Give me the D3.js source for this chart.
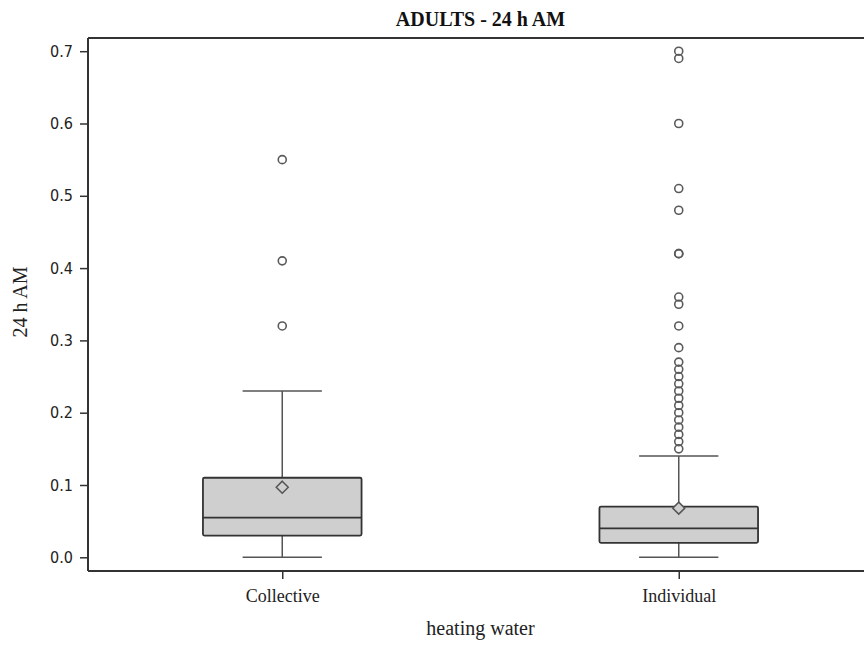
<!DOCTYPE html>
<html>
<head>
<meta charset="utf-8">
<script src="https://cdn.jsdelivr.net/npm/d3@7"></script>
<style>
  body { margin: 0; background: #fff; }
  svg { display: block; }
</style>
</head>
<body>
<svg id="chart" width="864" height="648"></svg>
<script>
// groups and their summary stats
var categories = ["Collective", "Individual"];
var q1 = [0.03, 0.02];
var median = [0.055, 0.04];
var q3 = [0.11, 0.07];
var mean = [0.097, 0.068];
var whiskerLow = [0, 0];
var whiskerHigh = [0.23, 0.14];
var outliersCollective = [0.32, 0.41, 0.55];
var outliersIndividual = [0.15, 0.16, 0.17, 0.18, 0.19, 0.20, 0.21, 0.22, 0.23, 0.24, 0.25, 0.26, 0.27,
  0.29, 0.32, 0.35, 0.36, 0.42, 0.42, 0.48, 0.51, 0.60, 0.69, 0.70];
var yTicks = [0.0, 0.1, 0.2, 0.3, 0.4, 0.5, 0.6, 0.7];

var svg = d3.select("#chart");
// note: "top" is taken by window.top, so use plotTop
var plotLeft = 88, plotTop = 38, plotBottom = 571, plotRight = 877;

var y = d3.scaleLinear().domain([0, 0.7]).range([557.3, 51.2]);
var x = d3.scalePoint().domain(categories).range([84, plotRight]).padding(0.5);
var boxW = x.step() * 0.4, capW = x.step() * 0.2;

// frame (right side is cut off in the original)
svg.append("line").attr("x1", plotLeft).attr("x2", 864).attr("y1", plotTop).attr("y2", plotTop)
  .attr("stroke", "#333").attr("stroke-width", 2);
svg.append("line").attr("x1", plotLeft).attr("x2", 864).attr("y1", plotBottom).attr("y2", plotBottom)
  .attr("stroke", "#333").attr("stroke-width", 2);

// y axis
var yAxis = svg.append("g").attr("transform", "translate(" + plotLeft + ",0)")
  .call(d3.axisLeft(y).tickValues(yTicks).tickFormat(d3.format(".1f")).tickSize(8).tickPadding(7));
yAxis.select(".domain").remove();
yAxis.append("line").attr("x1", 0).attr("x2", 0).attr("y1", plotTop).attr("y2", plotBottom)
  .attr("stroke", "#333").attr("stroke-width", 2);
yAxis.selectAll(".tick line").attr("stroke", "#333").attr("stroke-width", 1.5);
yAxis.selectAll(".tick text").attr("fill", "#222")
  .style("font-family", "'Liberation Sans Narrow', 'Arial Narrow', 'DejaVu Sans Condensed', sans-serif")
  .style("font-size", "16px");

// x axis
var xAxis = svg.append("g").attr("transform", "translate(0," + plotBottom + ")")
  .call(d3.axisBottom(x).tickSize(8).tickPadding(0));
xAxis.select(".domain").remove();
xAxis.selectAll(".tick line").attr("stroke", "#333").attr("stroke-width", 1.5);
xAxis.selectAll(".tick text").attr("fill", "#222").attr("dy", null).attr("y", 31)
  .style("font-family", "'Liberation Serif', serif").style("font-size", "18px");

// boxes
var groups = svg.selectAll(".box").data(categories).enter().append("g").attr("class", "box");

groups.append("line") // whisker stem
  .attr("x1", function(d) { return x(d); }).attr("x2", function(d) { return x(d); })
  .attr("y1", function(d, i) { return y(whiskerLow[i]); })
  .attr("y2", function(d, i) { return y(whiskerHigh[i]); })
  .attr("stroke", "#555").attr("stroke-width", 1.5);

groups.selectAll(".cap").data(function(d, i) { return [[d, whiskerLow[i]], [d, whiskerHigh[i]]]; })
  .enter().append("line")
  .attr("x1", function(c) { return x(c[0]) - capW / 2; })
  .attr("x2", function(c) { return x(c[0]) + capW / 2; })
  .attr("y1", function(c) { return y(c[1]); }).attr("y2", function(c) { return y(c[1]); })
  .attr("stroke", "#555").attr("stroke-width", 1.5);

groups.append("rect")
  .attr("x", function(d) { return x(d) - boxW / 2; })
  .attr("width", boxW)
  .attr("y", function(d, i) { return y(q3[i]); })
  .attr("height", function(d, i) { return y(q1[i]) - y(q3[i]); })
  .attr("rx", 1.5)
  .attr("fill", "#cfcfcf").attr("stroke", "#333").attr("stroke-width", 1.8);

groups.append("line")
  .attr("x1", function(d) { return x(d) - boxW / 2; })
  .attr("x2", function(d) { return x(d) + boxW / 2; })
  .attr("y1", function(d, i) { return y(median[i]); })
  .attr("y2", function(d, i) { return y(median[i]); })
  .attr("stroke", "#333").attr("stroke-width", 1.8);

// mean diamond
groups.append("path")
  .attr("d", function(d, i) {
    var cx = x(d), cy = y(mean[i]), s = 6;
    return "M" + cx + "," + (cy - s) + "L" + (cx + s) + "," + cy + "L" + cx + "," + (cy + s) + "L" + (cx - s) + "," + cy + "Z";
  })
  .attr("fill", "#cfcfcf").attr("stroke", "#555").attr("stroke-width", 1.5);

// outliers
var outliers = [outliersCollective, outliersIndividual];
categories.forEach(function(c, i) {
  svg.selectAll(".out" + i).data(outliers[i]).enter().append("circle")
    .attr("cx", x(c)).attr("cy", function(v) { return y(v); })
    .attr("r", 4)
    .attr("fill", "none").attr("stroke", "#5a5a5a").attr("stroke-width", 1.6);
});

// titles
svg.append("text").attr("x", (84 + plotRight) / 2).attr("y", 26).attr("text-anchor", "middle")
  .style("font-family", "'Liberation Serif', serif").style("font-weight", "bold").style("font-size", "20px")
  .attr("fill", "#111").text("ADULTS - 24 h AM");

svg.append("text").attr("x", (84 + plotRight) / 2).attr("y", 635).attr("text-anchor", "middle")
  .style("font-family", "'Liberation Serif', serif").style("font-size", "20px")
  .attr("fill", "#222").text("heating water");

svg.append("text").attr("transform", "translate(27,302) rotate(-90)").attr("text-anchor", "middle")
  .style("font-family", "'Liberation Serif', serif").style("font-size", "20px")
  .attr("fill", "#222").text("24 h AM");
</script>
</body>
</html>
